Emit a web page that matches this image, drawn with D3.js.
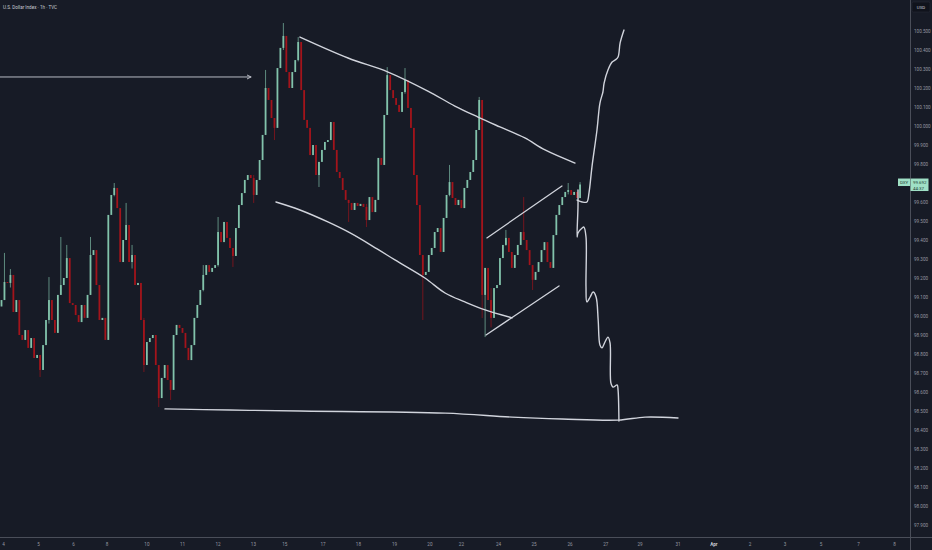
<!DOCTYPE html>
<html><head><meta charset="utf-8">
<script src="https://cdn.jsdelivr.net/npm/d3@7"></script>
<style>html,body{margin:0;padding:0;background:#171b26;overflow:hidden}svg{display:block}</style>
</head><body><svg id="c" width="932" height="550"></svg>
<script>
// ---------- data ----------
const title = "U.S. Dollar Index · 1h · TVC";
const currency = "USD";
const symbol = "DXY";
const lastPriceText = "99.692";
const countdownText = "44:37";
const firstOpen = 99.050;
const closes = [
 99.084,99.179,99.174,99.216,99.021,99.084,98.900,98.874,98.926,98.832,
 98.884,98.779,98.795,98.716,98.847,98.979,99.084,98.979,98.911,99.111,
 99.163,99.200,99.305,99.068,99.058,99.005,98.968,99.058,98.990,99.111,
 99.321,99.347,99.163,98.979,98.990,98.874,99.532,99.637,99.674,99.568,
 99.284,99.400,99.479,99.284,99.321,99.163,99.174,98.979,98.742,98.863,
 98.884,98.900,98.742,98.568,98.674,98.742,98.663,98.611,98.900,98.953,
 98.937,98.911,98.832,98.768,98.847,98.990,99.058,99.137,99.216,99.268,
 99.232,99.253,99.268,99.442,99.389,99.495,99.411,99.358,99.316,99.463,
 99.584,99.647,99.716,99.742,99.726,99.637,99.716,99.821,99.953,100.200,
 100.137,100.042,99.990,100.305,100.411,100.474,100.284,100.200,100.284,100.347,
 100.442,100.189,100.032,99.990,99.847,99.900,99.742,99.811,99.874,99.916,
 99.926,100.021,99.874,99.758,99.726,99.663,99.611,99.595,99.558,99.595,
 99.579,99.590,99.574,99.505,99.626,99.547,99.611,99.832,99.795,100.058,
 100.268,100.189,100.147,100.111,100.074,100.179,100.242,100.095,99.990,99.742,
 99.584,99.321,99.216,99.232,99.321,99.358,99.442,99.463,99.337,99.516,
 99.637,99.705,99.621,99.584,99.611,99.568,99.674,99.716,99.758,99.821,
 99.979,100.137,99.111,99.253,99.084,98.990,99.147,99.163,99.305,99.374,
 99.411,99.337,99.253,99.321,99.374,99.442,99.400,99.347,99.268,99.190,
 99.232,99.284,99.347,99.389,99.284,99.253,99.426,99.532,99.584,99.626,
 99.653,99.663,99.637,99.653,99.621,99.692
];
// notable wicks: [bar index, high, low]
const wicks = [
 [1,99.332,99.150],[3,99.247,99.150],[13,98.795,98.679],[16,99.205,98.960],[20,99.416,99.140],
 [22,99.374,99.200],[30,99.416,99.250],[38,99.700,99.630],[42,99.595,99.400],[44,99.374,99.250],
 [48,98.990,98.705],[53,98.742,98.521],[57,98.663,98.558],[68,99.268,99.130],[73,99.521,99.260],
 [78,99.358,99.258],[85,99.742,99.595],[89,100.295,99.953],[92,100.042,99.926],[95,100.542,100.400],
 [100,100.468,100.340],[107,99.811,99.679],[117,99.611,99.495],[123,99.590,99.468],[130,100.310,100.058],
 [136,100.305,100.170],[142,99.321,98.979],[151,99.795,99.630],[161,100.153,99.979],[162,100.137,98.989],
 [163,99.253,98.889],[165,99.147,98.940],[170,99.453,99.370],[176,99.626,99.400],[179,99.268,99.137],
 [191,99.700,99.640],[195,99.705,99.620]
];
const xTickLabels = ["4","5","6","8","10","11","12","13","15","17","18","19","20","22","24","25","26","27","29","31","Apr","2","3","5","7","8"];
const xTickIndex  = [0.7,12.5,24.3,35.6,49.0,61.0,73.0,84.9,95.5,108.4,120.3,132.5,144.4,155.0,167.5,179.5,191.6,203.7,215.2,228.0,240.1,252.3,264.1,276.2,288.9,301.0];
const yTicks = [97.9,98.0,98.1,98.2,98.3,98.4,98.5,98.6,98.7,98.8,98.9,99.0,99.1,99.2,99.3,99.4,99.5,99.6,99.7,99.8,99.9,100.0,100.1,100.2,100.3,100.4,100.5];

// drawings, in [bar index, price]
const arrowLine = [[-0.5,100.258],[84.1,100.258]];
const channelTop = [[100.6,100.468],[116.8,100.358],[130.3,100.284],[143.7,100.184],[152.8,100.105],[160.6,100.047],[168.0,99.995],[176.4,99.937],[183.2,99.874],[193.3,99.805]];
const channelBottom = [[92.5,99.600],[100.6,99.558],[110.0,99.495],[117.5,99.437],[126.6,99.353],[132.6,99.295],[142.7,99.200],[149.5,99.121],[156.2,99.074],[163.0,99.032],[172.1,98.990]];
const flagTop = [[163.6,99.411],[188.9,99.684]];
const flagBottom = [[163.3,98.900],[187.9,99.158]];
const supportLine = [[55.1,98.511],[77.0,98.505],[100.6,98.500],[149.5,98.489],[172.1,98.468],[188.9,98.458],[207.8,98.452],[216.9,98.468],[228.0,98.463]];
const pathUp = [[194.0,99.610],[195.7,99.600],[197.3,99.600],[198.0,99.647],[199.0,99.784],[200.7,99.979],[201.7,100.121],[202.7,100.179],[203.1,100.226],[204.4,100.295],[205.8,100.337],[206.8,100.347],[207.8,100.363],[208.5,100.437],[209.8,100.505]];
const pathDown = [[194.3,99.663],[194.3,99.574],[194.0,99.416],[194.3,99.437],[195.7,99.463],[196.3,99.468],[197.0,99.416],[197.0,99.153],[197.3,99.074],[198.4,99.100],[199.4,99.126],[200.4,99.100],[201.1,98.979],[201.7,98.847],[202.4,98.832],[203.4,98.863],[204.4,98.889],[205.1,98.858],[205.4,98.647],[206.1,98.626],[207.5,98.637],[207.8,98.611],[208.1,98.447]];

// ---------- layout ----------
const W = 932, H = 550, plotR = 910, plotB = 537;
const bg = "#171b26", up = "#82c3ab", down = "#a3141b", ink = "#d1d4dc", axisTxt = "#9598a1", axisLine = "#4a4e59";
const svg = d3.select("#c");
svg.append("rect").attr("width", W).attr("height", H).attr("fill", bg);

const x = d3.scaleLinear().domain([0, 306.2]).range([1.5, plotR]);
const y = d3.scaleLinear().domain([97.9, 100.5]).range([525, 31]);

svg.append("clipPath").attr("id","plot").append("rect").attr("x",0).attr("y",0).attr("width",plotR).attr("height",plotB);
const plot = svg.append("g").attr("clip-path","url(#plot)");

// candles
const wickMap = new Map(wicks.map(w => [w[0], w]));
const bars = closes.map((c, i) => {
  const o = i ? closes[i-1] : firstOpen;
  const w = wickMap.get(i);
  return {i, o, c, h: w ? Math.max(w[1], o, c) : Math.max(o, c), l: w ? Math.min(w[2], o, c) : Math.min(o, c)};
});
const col = d => d.c >= d.o ? up : down;
plot.append("g").selectAll("line").data(bars.filter(d => wickMap.has(d.i))).join("line")
  .attr("x1", d => x(d.i)).attr("x2", d => x(d.i))
  .attr("y1", d => y(d.h)).attr("y2", d => y(d.l))
  .attr("stroke", col).attr("stroke-width", 0.9).attr("stroke-opacity", 0.75);
plot.append("g").selectAll("rect").data(bars).join("rect")
  .attr("x", d => x(d.i) - 0.9)
  .attr("width", 1.8)
  .attr("y", d => y(Math.max(d.o, d.c)))
  .attr("height", d => Math.max(1, Math.abs(y(d.o) - y(d.c))))
  .attr("fill", col);

// drawings
const lineGen = d3.line().x(d => x(d[0])).y(d => y(d[1]));
const smooth = d3.line().x(d => x(d[0])).y(d => y(d[1])).curve(d3.curveCatmullRom.alpha(0.5));
const draw = (pts, gen, w) => plot.append("path").attr("d", gen(pts)).attr("fill","none").attr("stroke", ink).attr("stroke-width", w).attr("stroke-linecap","round").attr("stroke-linejoin","round");
draw(arrowLine, lineGen, 1).attr("stroke", "#b8bbc4");
const ah = [x(arrowLine[1][0]), y(arrowLine[1][1])];
plot.append("path").attr("d", `M${ah[0]-4},${ah[1]-2}L${ah[0]},${ah[1]}L${ah[0]-4},${ah[1]+2}`).attr("fill","none").attr("stroke","#b8bbc4").attr("stroke-width",1);
draw(channelTop, smooth, 1.4);
draw(channelBottom, smooth, 1.4);
draw(flagTop, lineGen, 1.3);
draw(flagBottom, lineGen, 1.3);
draw(supportLine, smooth, 1.4);
draw(pathUp, smooth, 1.4);
draw(pathDown, smooth, 1.4);

// axes
svg.append("line").attr("x1", plotR+0.5).attr("x2", plotR+0.5).attr("y1", 0).attr("y2", H).attr("stroke", axisLine);
svg.append("line").attr("x1", 0).attr("x2", W).attr("y1", plotB+0.5).attr("y2", plotB+0.5).attr("stroke", axisLine);
const font = "Roboto, 'Liberation Sans', Arial, sans-serif";
svg.append("g").selectAll("text").data(yTicks).join("text")
  .attr("x", 914).attr("y", d => y(d) + 1.6)
  .attr("font-family", font).attr("font-size", 4.6).attr("fill", axisTxt)
  .text(d => d.toFixed(3));
svg.append("g").selectAll("text").data(xTickLabels).join("text")
  .attr("x", (d, k) => x(xTickIndex[k])).attr("y", 545.5)
  .attr("text-anchor","middle")
  .attr("font-family", font).attr("font-size", 4.6)
  .attr("font-weight", d => d === "Apr" ? 700 : 400)
  .attr("fill", d => d === "Apr" ? "#c8cbd3" : axisTxt)
  .text(d => d);

// title
svg.append("text").attr("x", 3).attr("y", 9).attr("font-family", font).attr("font-size", 4.6).attr("fill", "#c8cbd3").text(title);

// currency box
svg.append("rect").attr("x", 912).attr("y", 2).attr("width", 18).attr("height", 10).attr("rx", 1.5).attr("fill", "#10131c").attr("stroke","#2a2e39").attr("stroke-width",0.5);
svg.append("text").attr("x", 921).attr("y", 8.6).attr("text-anchor","middle").attr("font-family", font).attr("font-size", 4.4).attr("fill", "#c8cbd3").text(currency);

// last price label
const lp = closes[closes.length - 1];
const ly = y(lp);
svg.append("rect").attr("x", 898).attr("y", ly - 6).attr("width", 12).attr("height", 7.5).attr("fill", "#9fe0c6");
svg.append("text").attr("x", 904).attr("y", ly - 0.6).attr("text-anchor","middle").attr("font-family", font).attr("font-size", 4.4).attr("fill", "#1f3d33").text(symbol);
svg.append("rect").attr("x", 910.5).attr("y", ly - 6).attr("width", 18).attr("height", 12.5).attr("fill", "#9fe0c6");
svg.append("text").attr("x", 913).attr("y", ly - 0.6).attr("font-family", font).attr("font-size", 4.4).attr("fill", "#1f3d33").text(lastPriceText);
svg.append("text").attr("x", 913).attr("y", ly + 5).attr("font-family", font).attr("font-size", 4.4).attr("fill", "#1f3d33").text(countdownText);
</script></body></html>
